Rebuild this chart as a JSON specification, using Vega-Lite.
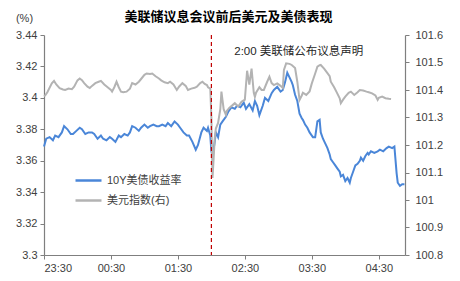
{
  "$schema": "https://vega.github.io/schema/vega-lite/v6.json",
  "width": 361,
  "height": 220,
  "autosize": {"type": "none"},
  "padding": {"left": 44, "top": 35, "right": 55, "bottom": 26},
  "title": {"text": "美联储议息会议前后美元及美债表现", "font": "Noto Sans CJK SC", "fontSize": 13, "fontWeight": "bold", "anchor": "middle", "frame": "group", "offset": -12, "dx": 4, "color": "#000000"},
  "datasets": {
    "yield": [
      {"time": "2023-02-01T23:30", "value": 3.369}, {"time": "2023-02-01T23:32", "value": 3.374}, {"time": "2023-02-01T23:35", "value": 3.375}, {"time": "2023-02-01T23:38", "value": 3.373}, {"time": "2023-02-01T23:40", "value": 3.376}, {"time": "2023-02-01T23:43", "value": 3.375}, {"time": "2023-02-01T23:46", "value": 3.378}, {"time": "2023-02-01T23:48", "value": 3.382}, {"time": "2023-02-01T23:51", "value": 3.380}, {"time": "2023-02-01T23:54", "value": 3.377}, {"time": "2023-02-01T23:56", "value": 3.377}, {"time": "2023-02-01T23:59", "value": 3.379},
      {"time": "2023-02-02T00:02", "value": 3.381}, {"time": "2023-02-02T00:04", "value": 3.380}, {"time": "2023-02-02T00:07", "value": 3.377}, {"time": "2023-02-02T00:10", "value": 3.378}, {"time": "2023-02-02T00:13", "value": 3.378}, {"time": "2023-02-02T00:15", "value": 3.377}, {"time": "2023-02-02T00:18", "value": 3.374}, {"time": "2023-02-02T00:21", "value": 3.376}, {"time": "2023-02-02T00:23", "value": 3.374}, {"time": "2023-02-02T00:26", "value": 3.373}, {"time": "2023-02-02T00:29", "value": 3.375}, {"time": "2023-02-02T00:31", "value": 3.374}, {"time": "2023-02-02T00:34", "value": 3.372}, {"time": "2023-02-02T00:37", "value": 3.376}, {"time": "2023-02-02T00:39", "value": 3.375}, {"time": "2023-02-02T00:42", "value": 3.377}, {"time": "2023-02-02T00:45", "value": 3.376}, {"time": "2023-02-02T00:47", "value": 3.378}, {"time": "2023-02-02T00:49", "value": 3.382}, {"time": "2023-02-02T00:52", "value": 3.381}, {"time": "2023-02-02T00:55", "value": 3.379}, {"time": "2023-02-02T00:57", "value": 3.381},
      {"time": "2023-02-02T01:00", "value": 3.383}, {"time": "2023-02-02T01:03", "value": 3.381}, {"time": "2023-02-02T01:05", "value": 3.382}, {"time": "2023-02-02T01:08", "value": 3.383}, {"time": "2023-02-02T01:11", "value": 3.382}, {"time": "2023-02-02T01:13", "value": 3.382}, {"time": "2023-02-02T01:16", "value": 3.383}, {"time": "2023-02-02T01:19", "value": 3.382}, {"time": "2023-02-02T01:21", "value": 3.384}, {"time": "2023-02-02T01:24", "value": 3.382}, {"time": "2023-02-02T01:27", "value": 3.385}, {"time": "2023-02-02T01:30", "value": 3.383}, {"time": "2023-02-02T01:32", "value": 3.381}, {"time": "2023-02-02T01:35", "value": 3.378}, {"time": "2023-02-02T01:38", "value": 3.376}, {"time": "2023-02-02T01:40", "value": 3.376}, {"time": "2023-02-02T01:43", "value": 3.372}, {"time": "2023-02-02T01:46", "value": 3.367}, {"time": "2023-02-02T01:48", "value": 3.370}, {"time": "2023-02-02T01:51", "value": 3.378}, {"time": "2023-02-02T01:53", "value": 3.381}, {"time": "2023-02-02T01:56", "value": 3.379}, {"time": "2023-02-02T01:57", "value": 3.381}, {"time": "2023-02-02T01:59", "value": 3.376},
      {"time": "2023-02-02T02:00", "value": 3.366}, {"time": "2023-02-02T02:01", "value": 3.363}, {"time": "2023-02-02T02:03", "value": 3.372}, {"time": "2023-02-02T02:04", "value": 3.378}, {"time": "2023-02-02T02:06", "value": 3.375}, {"time": "2023-02-02T02:08", "value": 3.383}, {"time": "2023-02-02T02:10", "value": 3.385}, {"time": "2023-02-02T02:13", "value": 3.388}, {"time": "2023-02-02T02:15", "value": 3.391}, {"time": "2023-02-02T02:18", "value": 3.394}, {"time": "2023-02-02T02:21", "value": 3.393}, {"time": "2023-02-02T02:23", "value": 3.395}, {"time": "2023-02-02T02:26", "value": 3.394}, {"time": "2023-02-02T02:29", "value": 3.397}, {"time": "2023-02-02T02:31", "value": 3.393}, {"time": "2023-02-02T02:34", "value": 3.396}, {"time": "2023-02-02T02:37", "value": 3.392}, {"time": "2023-02-02T02:39", "value": 3.398}, {"time": "2023-02-02T02:41", "value": 3.395}, {"time": "2023-02-02T02:43", "value": 3.389}, {"time": "2023-02-02T02:46", "value": 3.395}, {"time": "2023-02-02T02:48", "value": 3.400}, {"time": "2023-02-02T02:51", "value": 3.398}, {"time": "2023-02-02T02:54", "value": 3.403}, {"time": "2023-02-02T02:56", "value": 3.405}, {"time": "2023-02-02T02:59", "value": 3.407},
      {"time": "2023-02-02T03:02", "value": 3.404}, {"time": "2023-02-02T03:04", "value": 3.405}, {"time": "2023-02-02T03:06", "value": 3.410}, {"time": "2023-02-02T03:08", "value": 3.416}, {"time": "2023-02-02T03:10", "value": 3.413}, {"time": "2023-02-02T03:12", "value": 3.410}, {"time": "2023-02-02T03:13", "value": 3.408}, {"time": "2023-02-02T03:15", "value": 3.402}, {"time": "2023-02-02T03:17", "value": 3.398}, {"time": "2023-02-02T03:19", "value": 3.390}, {"time": "2023-02-02T03:21", "value": 3.387}, {"time": "2023-02-02T03:22", "value": 3.386}, {"time": "2023-02-02T03:24", "value": 3.383}, {"time": "2023-02-02T03:26", "value": 3.381}, {"time": "2023-02-02T03:28", "value": 3.378}, {"time": "2023-02-02T03:30", "value": 3.376}, {"time": "2023-02-02T03:31", "value": 3.375}, {"time": "2023-02-02T03:33", "value": 3.375}, {"time": "2023-02-02T03:35", "value": 3.385}, {"time": "2023-02-02T03:37", "value": 3.386}, {"time": "2023-02-02T03:38", "value": 3.378}, {"time": "2023-02-02T03:40", "value": 3.374}, {"time": "2023-02-02T03:42", "value": 3.371}, {"time": "2023-02-02T03:44", "value": 3.368}, {"time": "2023-02-02T03:46", "value": 3.364}, {"time": "2023-02-02T03:47", "value": 3.361}, {"time": "2023-02-02T03:49", "value": 3.359}, {"time": "2023-02-02T03:51", "value": 3.357}, {"time": "2023-02-02T03:53", "value": 3.355}, {"time": "2023-02-02T03:55", "value": 3.353}, {"time": "2023-02-02T03:56", "value": 3.350}, {"time": "2023-02-02T03:58", "value": 3.351},
      {"time": "2023-02-02T04:00", "value": 3.347}, {"time": "2023-02-02T04:02", "value": 3.349}, {"time": "2023-02-02T04:04", "value": 3.346}, {"time": "2023-02-02T04:05", "value": 3.349}, {"time": "2023-02-02T04:07", "value": 3.353}, {"time": "2023-02-02T04:09", "value": 3.357}, {"time": "2023-02-02T04:11", "value": 3.358}, {"time": "2023-02-02T04:13", "value": 3.360}, {"time": "2023-02-02T04:14", "value": 3.362}, {"time": "2023-02-02T04:16", "value": 3.360}, {"time": "2023-02-02T04:18", "value": 3.363}, {"time": "2023-02-02T04:20", "value": 3.365}, {"time": "2023-02-02T04:21", "value": 3.364}, {"time": "2023-02-02T04:23", "value": 3.366}, {"time": "2023-02-02T04:26", "value": 3.365}, {"time": "2023-02-02T04:29", "value": 3.366}, {"time": "2023-02-02T04:31", "value": 3.367}, {"time": "2023-02-02T04:34", "value": 3.366}, {"time": "2023-02-02T04:37", "value": 3.368}, {"time": "2023-02-02T04:39", "value": 3.369}, {"time": "2023-02-02T04:42", "value": 3.368}, {"time": "2023-02-02T04:44", "value": 3.369}, {"time": "2023-02-02T04:46", "value": 3.352}, {"time": "2023-02-02T04:47", "value": 3.346}, {"time": "2023-02-02T04:49", "value": 3.344}, {"time": "2023-02-02T04:51", "value": 3.345}, {"time": "2023-02-02T04:53", "value": 3.345}
    ],
    "dxy": [
      {"time": "2023-02-01T23:30", "value": 101.378}, {"time": "2023-02-01T23:31", "value": 101.380}, {"time": "2023-02-01T23:33", "value": 101.392}, {"time": "2023-02-01T23:37", "value": 101.424}, {"time": "2023-02-01T23:39", "value": 101.433}, {"time": "2023-02-01T23:41", "value": 101.420}, {"time": "2023-02-01T23:44", "value": 101.407}, {"time": "2023-02-01T23:47", "value": 101.402}, {"time": "2023-02-01T23:49", "value": 101.400}, {"time": "2023-02-01T23:52", "value": 101.405}, {"time": "2023-02-01T23:55", "value": 101.403}, {"time": "2023-02-01T23:57", "value": 101.412},
      {"time": "2023-02-02T00:00", "value": 101.435}, {"time": "2023-02-02T00:02", "value": 101.442}, {"time": "2023-02-02T00:04", "value": 101.436}, {"time": "2023-02-02T00:06", "value": 101.425}, {"time": "2023-02-02T00:09", "value": 101.412}, {"time": "2023-02-02T00:11", "value": 101.407}, {"time": "2023-02-02T00:13", "value": 101.415}, {"time": "2023-02-02T00:16", "value": 101.425}, {"time": "2023-02-02T00:19", "value": 101.430}, {"time": "2023-02-02T00:21", "value": 101.433}, {"time": "2023-02-02T00:24", "value": 101.420}, {"time": "2023-02-02T00:27", "value": 101.410}, {"time": "2023-02-02T00:30", "value": 101.400}, {"time": "2023-02-02T00:31", "value": 101.394}, {"time": "2023-02-02T00:33", "value": 101.410}, {"time": "2023-02-02T00:35", "value": 101.430}, {"time": "2023-02-02T00:37", "value": 101.410}, {"time": "2023-02-02T00:39", "value": 101.394}, {"time": "2023-02-02T00:41", "value": 101.392}, {"time": "2023-02-02T00:44", "value": 101.394}, {"time": "2023-02-02T00:47", "value": 101.405}, {"time": "2023-02-02T00:49", "value": 101.425}, {"time": "2023-02-02T00:52", "value": 101.420}, {"time": "2023-02-02T00:55", "value": 101.430}, {"time": "2023-02-02T00:57", "value": 101.440},
      {"time": "2023-02-02T01:00", "value": 101.455}, {"time": "2023-02-02T01:02", "value": 101.460}, {"time": "2023-02-02T01:05", "value": 101.458}, {"time": "2023-02-02T01:07", "value": 101.460}, {"time": "2023-02-02T01:10", "value": 101.450}, {"time": "2023-02-02T01:13", "value": 101.442}, {"time": "2023-02-02T01:15", "value": 101.435}, {"time": "2023-02-02T01:18", "value": 101.428}, {"time": "2023-02-02T01:21", "value": 101.425}, {"time": "2023-02-02T01:23", "value": 101.430}, {"time": "2023-02-02T01:26", "value": 101.420}, {"time": "2023-02-02T01:29", "value": 101.400}, {"time": "2023-02-02T01:31", "value": 101.412}, {"time": "2023-02-02T01:34", "value": 101.425}, {"time": "2023-02-02T01:37", "value": 101.415}, {"time": "2023-02-02T01:39", "value": 101.400}, {"time": "2023-02-02T01:42", "value": 101.405}, {"time": "2023-02-02T01:45", "value": 101.408}, {"time": "2023-02-02T01:47", "value": 101.412}, {"time": "2023-02-02T01:50", "value": 101.425}, {"time": "2023-02-02T01:52", "value": 101.430}, {"time": "2023-02-02T01:54", "value": 101.422}, {"time": "2023-02-02T01:56", "value": 101.418}, {"time": "2023-02-02T01:57", "value": 101.410}, {"time": "2023-02-02T01:59", "value": 101.405},
      {"time": "2023-02-02T02:00", "value": 101.300}, {"time": "2023-02-02T02:01", "value": 101.080}, {"time": "2023-02-02T02:02", "value": 101.150}, {"time": "2023-02-02T02:03", "value": 101.225}, {"time": "2023-02-02T02:04", "value": 101.260}, {"time": "2023-02-02T02:06", "value": 101.280}, {"time": "2023-02-02T02:08", "value": 101.330}, {"time": "2023-02-02T02:09", "value": 101.394}, {"time": "2023-02-02T02:11", "value": 101.330}, {"time": "2023-02-02T02:13", "value": 101.310}, {"time": "2023-02-02T02:14", "value": 101.325}, {"time": "2023-02-02T02:16", "value": 101.335}, {"time": "2023-02-02T02:19", "value": 101.345}, {"time": "2023-02-02T02:21", "value": 101.352}, {"time": "2023-02-02T02:24", "value": 101.340}, {"time": "2023-02-02T02:27", "value": 101.357}, {"time": "2023-02-02T02:30", "value": 101.365}, {"time": "2023-02-02T02:32", "value": 101.470}, {"time": "2023-02-02T02:34", "value": 101.420}, {"time": "2023-02-02T02:36", "value": 101.478}, {"time": "2023-02-02T02:38", "value": 101.390}, {"time": "2023-02-02T02:39", "value": 101.375}, {"time": "2023-02-02T02:40", "value": 101.390}, {"time": "2023-02-02T02:43", "value": 101.410}, {"time": "2023-02-02T02:45", "value": 101.400}, {"time": "2023-02-02T02:47", "value": 101.400}, {"time": "2023-02-02T02:50", "value": 101.430}, {"time": "2023-02-02T02:52", "value": 101.448}, {"time": "2023-02-02T02:54", "value": 101.425}, {"time": "2023-02-02T02:56", "value": 101.418}, {"time": "2023-02-02T02:59", "value": 101.424},
      {"time": "2023-02-02T03:02", "value": 101.415}, {"time": "2023-02-02T03:04", "value": 101.407}, {"time": "2023-02-02T03:05", "value": 101.473}, {"time": "2023-02-02T03:07", "value": 101.497}, {"time": "2023-02-02T03:10", "value": 101.495}, {"time": "2023-02-02T03:12", "value": 101.491}, {"time": "2023-02-02T03:15", "value": 101.480}, {"time": "2023-02-02T03:17", "value": 101.430}, {"time": "2023-02-02T03:19", "value": 101.364}, {"time": "2023-02-02T03:21", "value": 101.380}, {"time": "2023-02-02T03:22", "value": 101.390}, {"time": "2023-02-02T03:25", "value": 101.382}, {"time": "2023-02-02T03:28", "value": 101.395}, {"time": "2023-02-02T03:30", "value": 101.424}, {"time": "2023-02-02T03:33", "value": 101.460}, {"time": "2023-02-02T03:35", "value": 101.485}, {"time": "2023-02-02T03:37", "value": 101.490}, {"time": "2023-02-02T03:38", "value": 101.491}, {"time": "2023-02-02T03:41", "value": 101.478}, {"time": "2023-02-02T03:43", "value": 101.467}, {"time": "2023-02-02T03:46", "value": 101.450}, {"time": "2023-02-02T03:47", "value": 101.430}, {"time": "2023-02-02T03:50", "value": 101.410}, {"time": "2023-02-02T03:52", "value": 101.394}, {"time": "2023-02-02T03:55", "value": 101.370}, {"time": "2023-02-02T03:56", "value": 101.352}, {"time": "2023-02-02T03:58", "value": 101.365},
      {"time": "2023-02-02T04:00", "value": 101.376}, {"time": "2023-02-02T04:03", "value": 101.390}, {"time": "2023-02-02T04:05", "value": 101.394}, {"time": "2023-02-02T04:08", "value": 101.382}, {"time": "2023-02-02T04:11", "value": 101.392}, {"time": "2023-02-02T04:13", "value": 101.400}, {"time": "2023-02-02T04:16", "value": 101.398}, {"time": "2023-02-02T04:19", "value": 101.394}, {"time": "2023-02-02T04:21", "value": 101.392}, {"time": "2023-02-02T04:24", "value": 101.388}, {"time": "2023-02-02T04:27", "value": 101.380}, {"time": "2023-02-02T04:29", "value": 101.364}, {"time": "2023-02-02T04:30", "value": 101.372}, {"time": "2023-02-02T04:33", "value": 101.376}, {"time": "2023-02-02T04:36", "value": 101.370}, {"time": "2023-02-02T04:39", "value": 101.368}, {"time": "2023-02-02T04:41", "value": 101.367}
    ],
    "event": [{"time": "2023-02-02T02:00"}],
    "note": [{"time": "2023-02-02T02:20:30", "value": 3.429, "label": "2:00 美联储公布议息声明"}]
  },
  "layer": [
    {
      "data": {"name": "yield"},
      "mark": {"type": "line", "strokeWidth": 2, "interpolate": "linear"},
      "encoding": {
        "x": {"field": "time", "type": "temporal",
          "scale": {"domain": [{"year": 2023, "month": 2, "date": 1, "hours": 23, "minutes": 30}, {"year": 2023, "month": 2, "date": 2, "hours": 4, "minutes": 53, "seconds": 30}]},
          "axis": {"title": null, "format": "%H:%M", "grid": false, "tickSize": 4, "labelPadding": 3,
            "values": [
              {"year": 2023, "month": 2, "date": 1, "hours": 23, "minutes": 30},
              {"year": 2023, "month": 2, "date": 2, "hours": 0, "minutes": 30},
              {"year": 2023, "month": 2, "date": 2, "hours": 1, "minutes": 30},
              {"year": 2023, "month": 2, "date": 2, "hours": 2, "minutes": 30},
              {"year": 2023, "month": 2, "date": 2, "hours": 3, "minutes": 30},
              {"year": 2023, "month": 2, "date": 2, "hours": 4, "minutes": 30}
            ]}},
        "y": {"field": "value", "type": "quantitative",
          "scale": {"domain": [3.3, 3.44], "nice": false, "zero": false},
          "axis": {"orient": "left", "title": "(%)", "titleAngle": 0, "titleX": -20, "titleY": -17, "titleAlign": "center", "titleBaseline": "middle", "titleFontWeight": "normal", "titleFontSize": 11, "titleFont": "Liberation Sans", "titleColor": "#404040",
            "values": [3.3, 3.32, 3.34, 3.36, 3.38, 3.4, 3.42, 3.44], "format": ".2~f", "tickSize": 4, "labelPadding": 3, "grid": false}},
        "color": {"datum": "10Y美债收益率", "type": "nominal",
          "scale": {"domain": ["10Y美债收益率", "美元指数(右)"], "range": ["#4a86d8", "#b3b3b3"]},
          "legend": {"title": null, "orient": "none", "legendX": 30, "legendY": 131, "symbolType": "stroke", "symbolSize": 676, "symbolStrokeWidth": 2.5, "labelOffset": 4, "rowPadding": -5, "padding": 0, "labelFontSize": 11, "labelFont": "'Liberation Sans', 'Noto Sans CJK SC'", "labelColor": "#404040"}}
      }
    },
    {
      "data": {"name": "dxy"},
      "mark": {"type": "line", "strokeWidth": 2, "interpolate": "linear"},
      "encoding": {
        "x": {"field": "time", "type": "temporal"},
        "y": {"field": "value", "type": "quantitative",
          "scale": {"domain": [100.8, 101.6], "nice": false, "zero": false},
          "axis": {"orient": "right", "title": null, "values": [100.8, 100.9, 101, 101.1, 101.2, 101.3, 101.4, 101.5, 101.6], "format": ".1~f", "tickSize": 4, "labelPadding": 6, "grid": false}},
        "color": {"datum": "美元指数(右)", "type": "nominal"}
      }
    },
    {
      "data": {"name": "event"},
      "mark": {"type": "rule", "color": "#c00000", "strokeWidth": 1.2, "strokeDash": [4, 3]},
      "encoding": {"x": {"field": "time", "type": "temporal"}}
    },
    {
      "data": {"name": "note"},
      "mark": {"type": "text", "align": "left", "baseline": "middle", "fontSize": 11.5, "font": "'Liberation Sans', 'Noto Sans CJK SC'", "color": "#262626"},
      "encoding": {
        "x": {"field": "time", "type": "temporal"},
        "y": {"field": "value", "type": "quantitative", "scale": {"domain": [3.3, 3.44], "nice": false, "zero": false}, "axis": null},
        "text": {"field": "label"}
      }
    }
  ],
  "resolve": {"scale": {"y": "independent"}},
  "config": {
    "view": {"stroke": null},
    "axis": {"domainColor": "#7f7f7f", "tickColor": "#7f7f7f", "labelColor": "#404040", "labelFont": "Liberation Sans", "labelFontSize": 11, "domainWidth": 1.2}
  }
}
